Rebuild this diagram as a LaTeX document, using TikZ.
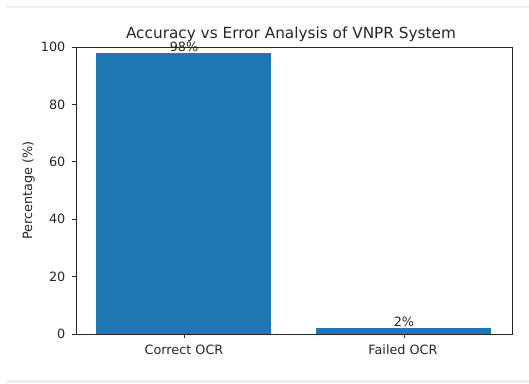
\documentclass[tikz,border=0pt]{standalone}
\usepackage{fontspec}
\setmainfont{DejaVu Sans}
\definecolor{barblue}{HTML}{1F77B4}
\definecolor{edgegray}{HTML}{EEEEEE}
\tikzset{
  ticklabel/.style={font=\fontsize{12.8}{15}\selectfont, text=black!85, inner sep=0pt},
  barbox/.style={fill=barblue, draw=none},
  spine/.style={draw=black!85, line width=1pt},
}
\begin{document}
\begin{tikzpicture}[x=1pt,y=-1pt]
  \useasboundingbox (0,0) rectangle (529,383);
  % screenshot edges
  \draw[edgegray, line width=1.2pt] (7,7) -- (529,7);
  \fill[edgegray] (7,380) rectangle (529,383);

  % axes corners
  \coordinate (ll) at (76,334);
  \coordinate (ur) at (512,47);

  % bars
  \fill[barbox] (96,334) rectangle (271,52.7);
  \fill[barbox] (316,334) rectangle (491,328.3);

  % frame
  \draw[spine] (ll) rectangle (ur);

  % y ticks
  \foreach \v in {0,20,...,100}{
    \draw[spine] (76,{334-2.87*\v}) -- ++(-4.3,0);
    \node[ticklabel, anchor=east] (ytick\v) at (65.5,{334-2.87*\v}) {\v};
  }

  % x ticks
  \draw[spine] (184,334) -- ++(0,4.3);
  \draw[spine] (404,334) -- ++(0,4.3);
  \node[ticklabel, anchor=north] (xcorrect) at (184,345) {Correct OCR};
  \node[ticklabel, anchor=north] (xfailed) at (403,345) {Failed OCR};

  % bar values
  \node[ticklabel, anchor=base] (vcorrect) at (184,51.2) {98\%};
  \node[ticklabel, anchor=base] (vfailed) at (404,326.8) {2\%};

  % axis label and title
  \node[ticklabel, rotate=90] (ylab) at (28.5,190.5) {Percentage (\%)};
  \node[font=\fontsize{15.3}{18}\selectfont, text=black!85, inner sep=0pt, anchor=base] (title) at (291,38.5) {Accuracy vs Error Analysis of VNPR System};
\end{tikzpicture}
\end{document}
